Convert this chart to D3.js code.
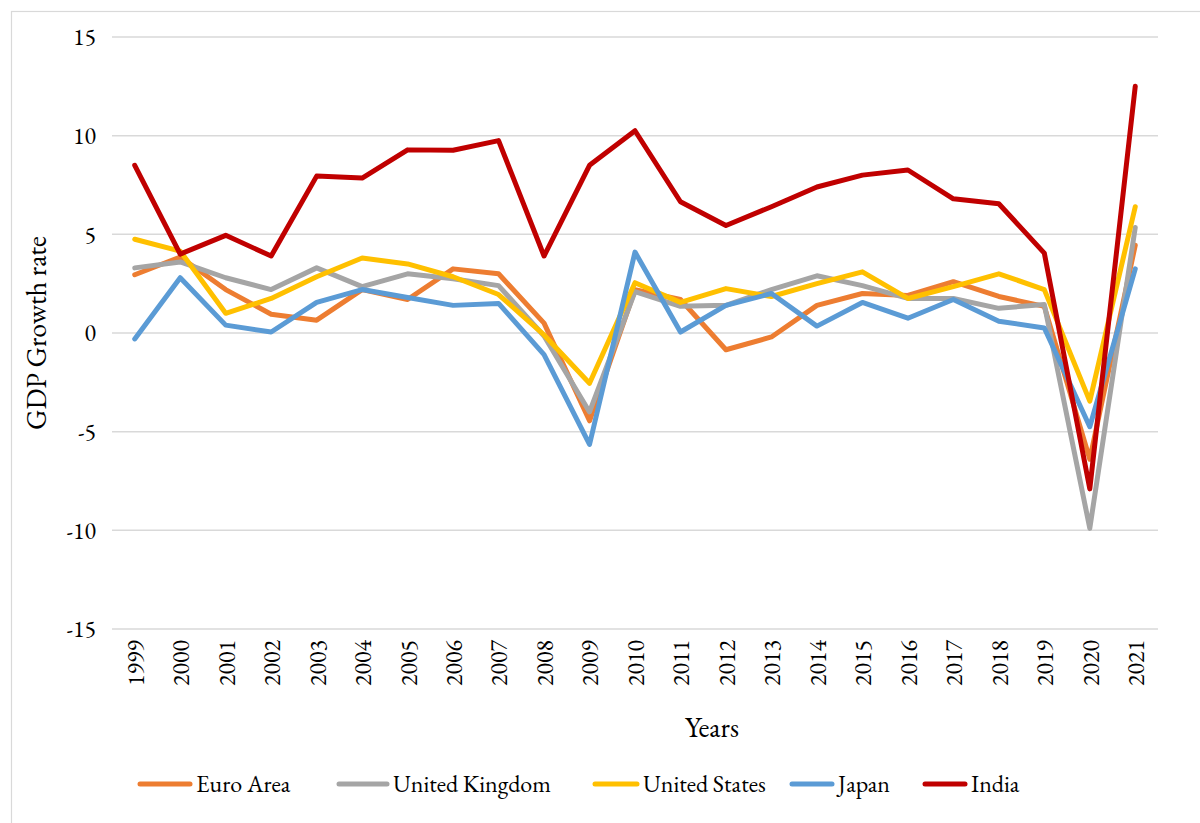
<!DOCTYPE html>
<html>
<head>
<meta charset="utf-8">
<script src="https://cdn.jsdelivr.net/npm/d3@7"></script>
<style>
    body { margin: 0; background: #fff; }
    svg text { font-family: "EB Garamond", Garamond, "Liberation Serif", "DejaVu Serif", serif; fill: #000; }
</style>
</head>
<body>
<div id="chart"></div>
<script>
const years = ['1999', '2000', '2001', '2002', '2003', '2004', '2005', '2006', '2007', '2008', '2009', '2010',
    '2011', '2012', '2013', '2014', '2015', '2016', '2017', '2018', '2019', '2020', '2021']

const euroArea = [2.95, 3.85, 2.2, 0.95, 0.65, 2.2, 1.7, 3.25, 3.0, 0.5, -4.45, 2.2, 1.7, -0.85, -0.2, 1.4, 2.0, 1.9, 2.6, 1.85, 1.35, -6.4, 4.45]
const unitedKingdom = [3.3, 3.6, 2.8, 2.2, 3.3, 2.35, 3.0, 2.75, 2.4, -0.15, -4.0, 2.1, 1.35, 1.4, 2.2, 2.9, 2.4, 1.75, 1.75, 1.25, 1.45, -9.9, 5.35]
const unitedStates = [4.75, 4.15, 1.0, 1.75, 2.85, 3.8, 3.5, 2.85, 1.95, -0.1, -2.55, 2.55, 1.55, 2.25, 1.85, 2.5, 3.1, 1.75, 2.35, 3.0, 2.2, -3.45, 6.4]
const japan = [-0.3, 2.8, 0.4, 0.05, 1.55, 2.2, 1.8, 1.4, 1.5, -1.1, -5.65, 4.1, 0.05, 1.4, 2.0, 0.35, 1.55, 0.75, 1.7, 0.6, 0.25, -4.75, 3.25]
const india = [8.5, 4.0, 4.95, 3.9, 7.95, 7.85, 9.28, 9.26, 9.75, 3.9, 8.5, 10.25, 6.65, 5.45, 6.4, 7.4, 8.0, 8.26, 6.8, 6.55, 4.05, -7.9, 12.5]

const yTicks = [-15, -10, -5, 0, 5, 10, 15]

const series = [
    { name: 'Euro Area', values: euroArea, color: '#ED7D31' },
    { name: 'United Kingdom', values: unitedKingdom, color: '#A5A5A5' },
    { name: 'United States', values: unitedStates, color: '#FFC000' },
    { name: 'Japan', values: japan, color: '#5B9BD5' },
    { name: 'India', values: india, color: '#C00000' },
]

const W = 1200, H = 823
const margin = { top: 37, right: 42, bottom: 194, left: 112 }
const width = W - margin.left - margin.right
const height = H - margin.top - margin.bottom

const svg = d3.select('#chart')
.append('svg')
    .attr('width', W)
    .attr('height', H)

// chart area border
svg.append('rect')
    .attr('x', 11.5)
    .attr('y', 11.5)
    .attr('width', W + 10)
    .attr('height', H + 10)
    .attr('fill', 'none')
    .attr('stroke', '#d9d9d9')
    .attr('stroke-width', 1.2)

const g = svg.append('g')
    .attr('transform', `translate(${margin.left},${margin.top})`)

const xScale = d3.scalePoint()
    .domain(years)
    .range([0, width])
    .padding(0.5)

const yScale = d3.scaleLinear()
    .domain([-15, 15])
    .range([height, 0])

// gridlines
g.append('g')
.selectAll('line')
.data(yTicks)
.enter()
.append('line')
    .attr('x1', 0)
    .attr('x2', width)
    .attr('y1', (d) => yScale(d))
    .attr('y2', (d) => yScale(d))
    .attr('stroke', '#d9d9d9')
    .attr('stroke-width', 1.5)

// y axis labels
const yAxis = d3.axisLeft(yScale)
    .tickValues(yTicks)
    .tickFormat((d) => String(d))
    .tickSize(0)
    .tickPadding(16)
g.append('g')
    .call(yAxis)
    .call((a) => a.select('.domain').remove())
    .selectAll('text')
        .style('font-size', '24px')

// x axis labels
const xAxis = d3.axisBottom(xScale).tickSize(0)
g.append('g')
    .attr('transform', `translate(0,${height})`)
    .call(xAxis)
    .call((a) => a.select('.domain').remove())
    .selectAll('text')
        .attr('transform', 'rotate(-90)')
        .attr('x', -11)
        .attr('y', 0)
        .attr('dy', '0.35em')
        .style('text-anchor', 'end')
        .style('font-size', '24px')

// axis titles
svg.append('text')
    .attr('transform', `translate(46,${margin.top + yScale(0)})rotate(-90)`)
    .attr('text-anchor', 'middle')
    .style('font-size', '28px')
    .text('GDP Growth rate')

svg.append('text')
    .attr('x', 712)
    .attr('y', 737)
    .attr('text-anchor', 'middle')
    .style('font-size', '28px')
    .text('Years')

// lines
const line = d3.line()
    .x((d, i) => xScale(years[i]))
    .y((d) => yScale(d))

g.selectAll('.series')
.data(series)
.enter()
.append('path')
    .attr('d', (d) => line(d.values))
    .attr('fill', 'none')
    .attr('stroke', (d) => d.color)
    .attr('stroke-width', 5)
    .attr('stroke-linejoin', 'round')
    .attr('stroke-linecap', 'round')

// legend
const keyStart = [140, 339, 595, 792, 925]
const textStart = [196, 393, 643, 838, 971]
const legend = svg.append('g')
.selectAll('g')
.data(series)
.enter()
.append('g')

legend.append('line')
    .attr('x1', (d, i) => keyStart[i])
    .attr('x2', (d, i) => textStart[i] - 6)
    .attr('y1', 784)
    .attr('y2', 784)
    .attr('stroke', (d) => d.color)
    .attr('stroke-width', 5)
    .attr('stroke-linecap', 'round')

legend.append('text')
    .attr('x', (d, i) => textStart[i])
    .attr('y', 784)
    .attr('dy', '0.35em')
    .style('font-size', '24px')
    .text((d) => d.name)
</script>
</body>
</html>
